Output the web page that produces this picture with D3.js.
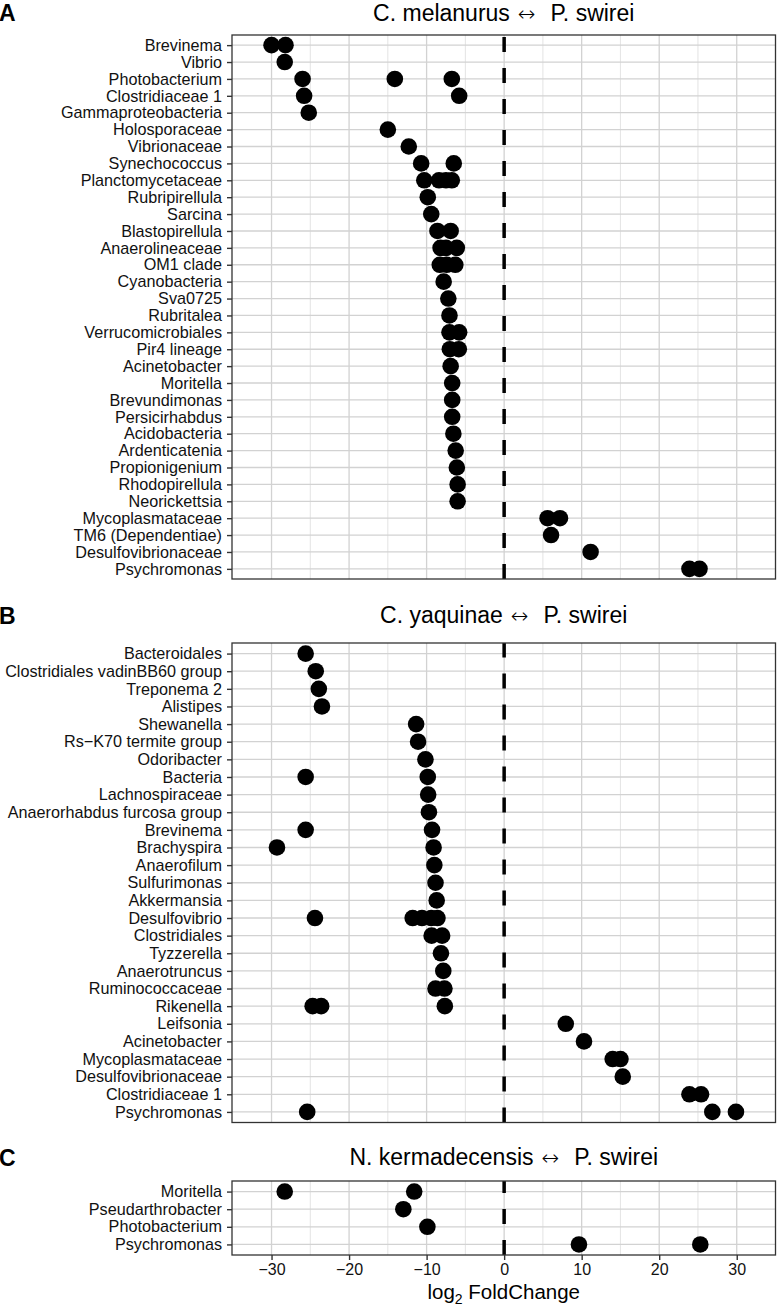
<!DOCTYPE html>
<html>
<head>
<meta charset="utf-8">
<script src="https://cdn.jsdelivr.net/npm/d3@7"></script>
<style>
  body { margin: 0; background: #fff; }
  svg { display: block; }
  text { font-family: "Liberation Sans", Arial, Helvetica, sans-serif; }
</style>
</head>
<body>
<svg id="chart" width="777" height="1306"></svg>
<script>
// ---------- DATA ----------
const catsA = ["Brevinema","Vibrio","Photobacterium","Clostridiaceae 1","Gammaproteobacteria","Holosporaceae","Vibrionaceae","Synechococcus","Planctomycetaceae","Rubripirellula","Sarcina","Blastopirellula","Anaerolineaceae","OM1 clade","Cyanobacteria","Sva0725","Rubritalea","Verrucomicrobiales","Pir4 lineage","Acinetobacter","Moritella","Brevundimonas","Persicirhabdus","Acidobacteria","Ardenticatenia","Propionigenium","Rhodopirellula","Neorickettsia","Mycoplasmataceae","TM6 (Dependentiae)","Desulfovibrionaceae","Psychromonas"];
const valsA = [[-30.0,-28.2],[-28.3],[-26.0,-14.1,-6.75],[-25.8,-5.8],[-25.2],[-15.0],[-12.3],[-10.7,-6.5],[-10.3,-8.4,-7.5,-6.75],[-9.85],[-9.4],[-8.6,-6.9],[-8.2,-7.5,-6.1],[-8.3,-7.4,-6.3],[-7.8],[-7.2],[-7.05],[-7.05,-5.8],[-7.0,-5.85],[-6.9],[-6.7],[-6.7],[-6.7],[-6.55],[-6.25],[-6.1],[-6.0],[-6.0],[5.6,7.2],[6.05],[11.15],[23.9,25.2]];

const catsB = ["Bacteroidales","Clostridiales vadinBB60 group","Treponema 2","Alistipes","Shewanella","Rs\u2212K70 termite group","Odoribacter","Bacteria","Lachnospiraceae","Anaerorhabdus furcosa group","Brevinema","Brachyspira","Anaerofilum","Sulfurimonas","Akkermansia","Desulfovibrio","Clostridiales","Tyzzerella","Anaerotruncus","Ruminococcaceae","Rikenella","Leifsonia","Acinetobacter","Mycoplasmataceae","Desulfovibrionaceae","Clostridiaceae 1","Psychromonas"];
const valsB = [[-25.6],[-24.3],[-23.9],[-23.5],[-11.35],[-11.1],[-10.15],[-25.6,-9.85],[-9.8],[-9.7],[-25.6,-9.3],[-29.3,-9.1],[-9.0],[-8.85],[-8.7],[-24.4,-11.8,-10.6,-9.4,-8.6],[-9.35,-8.0],[-8.15],[-7.85],[-8.85,-7.7],[-24.7,-23.6,-7.65],[7.95],[10.3],[14.0,15.0],[15.3],[23.9,25.4],[-25.4,26.85,29.9]];

const catsC = ["Moritella","Pseudarthrobacter","Photobacterium","Psychromonas"];
const valsC = [[-28.3,-11.6],[-13.0],[-9.9],[9.65,25.3]];

const panelLabels = ["A","B","C"];
const titlesLeft = ["C. melanurus","C. yaquinae","N. kermadecensis"];
const titleRight = "P. swirei";
const xMajor = [-30,-20,-10,0,10,20,30];
const xMinor = [-25,-15,-5,5,15,25];
const xDomain = [-35.1, 35.0];

// ---------- LAYOUT ----------
const svg = d3.select("#chart");
const left = 232, right = 775.5;
const x = d3.scaleLinear().domain(xDomain).range([left, right]);
const fmt = d => (d < 0 ? "\u2212" + Math.abs(d) : String(d));

const panels = [
  {cats: catsA, vals: valsA, top: 35, bottom: 579, titleY: 20.5},
  {cats: catsB, vals: valsB, top: 643, bottom: 1122.5, titleY: 623},
  {cats: catsC, vals: valsC, top: 1181, bottom: 1255, titleY: 1165}
];

panels.forEach((p, i) => {
  const g = svg.append("g");
  const y = d3.scalePoint().domain(p.cats).range([p.top, p.bottom]).padding(0.6);

  // panel label
  g.append("text").attr("x", -1).attr("y", p.titleY + 0.5)
    .attr("font-size", 23).attr("font-weight", "bold").attr("fill", "#000")
    .text(panelLabels[i]);

  // title
  const t = g.append("text").attr("x", (left + right) / 2).attr("y", p.titleY)
    .attr("text-anchor", "middle").attr("font-size", 23).attr("fill", "#000");
  t.append("tspan").text(titlesLeft[i]);
  t.append("tspan").attr("dx", 8).attr("font-family", "DejaVu Sans").attr("font-size", 21)
    .attr("font-weight", 300).text("\u2194");
  t.append("tspan").attr("dx", 15).text(titleRight);

  // grid
  const grid = g.append("g");
  grid.selectAll("line.minor").data(xMinor).join("line")
    .attr("x1", d => x(d)).attr("x2", d => x(d))
    .attr("y1", p.top).attr("y2", p.bottom)
    .attr("stroke", "#dcdcdc").attr("stroke-width", 0.8);
  grid.selectAll("line.hmaj").data(p.cats).join("line")
    .attr("x1", left).attr("x2", right)
    .attr("y1", d => y(d)).attr("y2", d => y(d))
    .attr("stroke", "#d2d2d2").attr("stroke-width", 1.3);
  grid.selectAll("line.vmaj").data(xMajor).join("line")
    .attr("x1", d => x(d)).attr("x2", d => x(d))
    .attr("y1", p.top).attr("y2", p.bottom)
    .attr("stroke", "#d2d2d2").attr("stroke-width", 1.3);

  // dashed zero line (drawn from bottom up)
  g.append("line")
    .attr("x1", x(0)).attr("x2", x(0))
    .attr("y1", p.bottom).attr("y2", p.top)
    .attr("stroke", "#000").attr("stroke-width", 3.5)
    .attr("stroke-dasharray", "15,16");

  // points
  const pts = [];
  p.cats.forEach((c, j) => p.vals[j].forEach(v => pts.push({c, v})));
  g.append("g").selectAll("circle").data(pts).join("circle")
    .attr("cx", d => x(d.v)).attr("cy", d => y(d.c))
    .attr("r", 8.3).attr("fill", "#000");

  // border
  g.append("rect").attr("x", left).attr("y", p.top)
    .attr("width", right - left).attr("height", p.bottom - p.top)
    .attr("fill", "none").attr("stroke", "#333").attr("stroke-width", 1.3);

  // y axis
  const yAxis = g.append("g").attr("transform", `translate(${left},0)`)
    .call(d3.axisLeft(y).tickSize(5).tickPadding(5));
  yAxis.select(".domain").remove();
  yAxis.selectAll(".tick line").attr("stroke", "#333").attr("stroke-width", 1.4);
  yAxis.selectAll(".tick text").attr("font-size", 16.2).attr("fill", "#111")
    .attr("font-family", "Liberation Sans, Arial, sans-serif");

  // x axis only on last panel
  if (i === panels.length - 1) {
    const xAxis = g.append("g").attr("transform", `translate(0,${p.bottom})`)
      .call(d3.axisBottom(x).tickValues(xMajor).tickFormat(fmt).tickSize(5).tickPadding(4));
    xAxis.select(".domain").remove();
    xAxis.selectAll(".tick line").attr("stroke", "#333").attr("stroke-width", 1.4);
    xAxis.selectAll(".tick text").attr("font-size", 16).attr("fill", "#111")
      .attr("font-family", "Liberation Sans, Arial, sans-serif");

    const xt = g.append("text").attr("x", (left + right) / 2).attr("y", 1299)
      .attr("text-anchor", "middle").attr("font-size", 20.5).attr("fill", "#000");
    xt.append("tspan").text("log");
    xt.append("tspan").attr("font-size", 14).attr("dy", 5).text("2");
    xt.append("tspan").attr("dy", -5).text(" FoldChange");
  }
});
</script>
</body>
</html>
